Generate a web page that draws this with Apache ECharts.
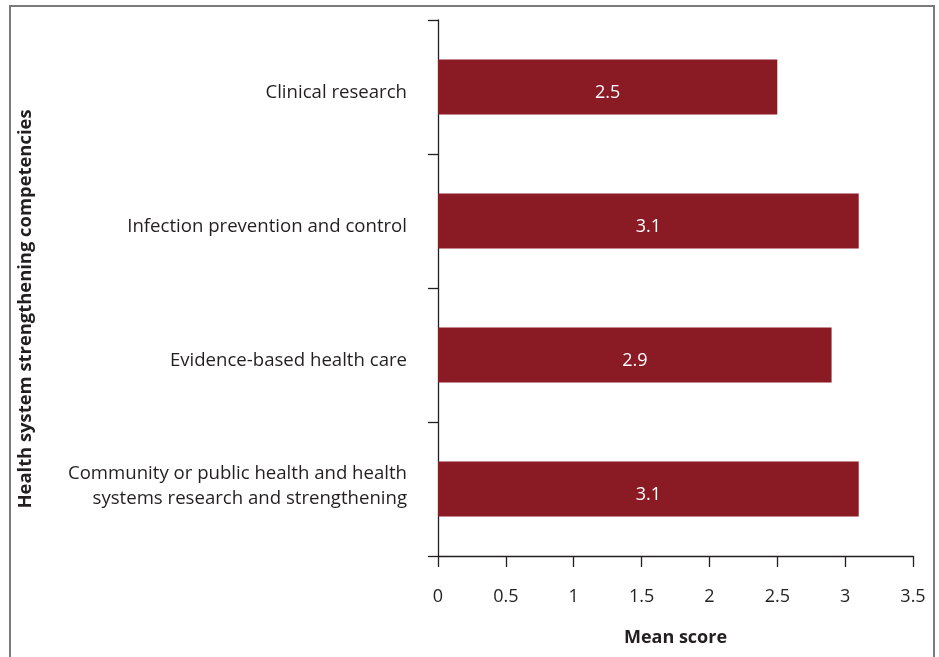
<!DOCTYPE html>
<html>
<head>
<meta charset="utf-8">
<style>
  html, body { margin: 0; padding: 0; background: #fff; }
  #chart { width: 939px; height: 657px; }
</style>
<script src="https://cdn.jsdelivr.net/npm/echarts@6/dist/echarts.min.js"></script>
</head>
<body>
<div id="chart"></div>
<script>
// Competency areas, top to bottom
const categories = [
  'Clinical research',
  'Infection prevention and control',
  'Evidence-based health care',
  'Community or public health and health\nsystems research and strengthening'
];
// Mean score per competency
const meanScores = [2.5, 3.1, 2.9, 3.1];
// Value-axis ticks
const xTicks = [0, 0.5, 1, 1.5, 2, 2.5, 3, 3.5];

const FONT = '"Open Sans", "Noto Sans", sans-serif';
const INK = '#231f20';
const BAR = '#8a1a23';

// Single-line labels sit slightly below the band centre, wrapped ones slightly above
function categoryLabel(name) {
  const lines = name.split('\n');
  if (lines.length === 1) return '{one|' + name + '}';
  return lines.map(function (l) { return '{multi|' + l + '}'; }).join('\n');
}

const chart = echarts.init(document.getElementById('chart'), null, { renderer: 'canvas' });

chart.setOption({
  animation: false,
  backgroundColor: '#fff',
  grid: { left: 438, right: 26, top: 20, bottom: 101, containLabel: false },
  xAxis: {
    type: 'value',
    min: xTicks[0],
    max: xTicks[xTicks.length - 1],
    interval: xTicks[1] - xTicks[0],
    name: 'Mean score',
    nameLocation: 'middle',
    nameGap: 73,
    nameTextStyle: { fontFamily: FONT, fontSize: 18, fontWeight: 'bold', color: INK },
    axisLine: { show: true, lineStyle: { color: INK, width: 1.3 } },
    axisTick: { show: true, length: 11, lineStyle: { color: INK, width: 1.3 } },
    axisLabel: { margin: 32, fontFamily: FONT, fontSize: 18, color: INK },
    splitLine: { show: false }
  },
  yAxis: {
    type: 'category',
    data: categories,
    inverse: true,
    axisLine: { show: true, lineStyle: { color: INK, width: 1.3 } },
    axisTick: { show: true, length: 10, lineStyle: { color: INK, width: 1.3 } },
    axisLabel: {
      margin: 31,
      align: 'right',
      formatter: categoryLabel,
      rich: {
        one: {
          fontFamily: FONT, fontSize: 18.6, color: INK, align: 'right',
          lineHeight: 24, padding: [12, 0, 0, 0]
        },
        multi: {
          fontFamily: FONT, fontSize: 18.6, color: INK, align: 'right',
          lineHeight: 25, padding: [0, 0, 5, 0]
        }
      }
    },
    splitLine: { show: false }
  },
  series: [{
    type: 'bar',
    data: meanScores,
    barWidth: 55,
    itemStyle: { color: BAR },
    label: {
      show: true,
      position: 'inside',
      offset: [0, 6],
      color: '#fff',
      fontFamily: FONT,
      fontSize: 18
    }
  }],
  graphic: [
    {
      type: 'rect',
      shape: { x: 10, y: 6, width: 924, height: 700 },
      style: { fill: 'none', stroke: '#7a7a7a', lineWidth: 2 },
      silent: true
    },
    {
      type: 'text',
      x: 26,
      y: 309,
      rotation: Math.PI / 2,
      style: {
        text: 'Health system strengthening competencies',
        font: 'bold 18.4px ' + FONT,
        fill: INK,
        align: 'center',
        verticalAlign: 'middle'
      }
    }
  ]
});
</script>
</body>
</html>
